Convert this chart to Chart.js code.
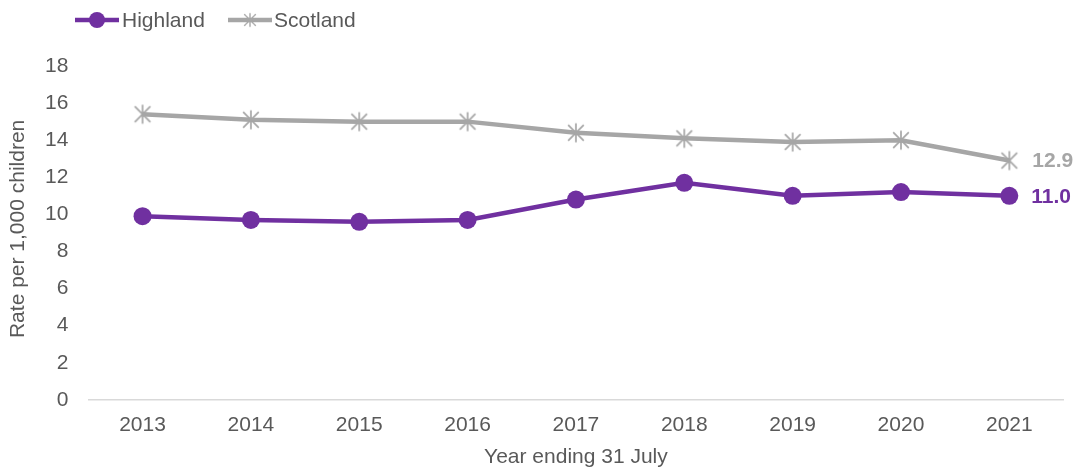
<!DOCTYPE html>
<html><head><meta charset="utf-8">
<script src="https://cdn.jsdelivr.net/npm/chart.js@4"></script>
<style>html,body{margin:0;padding:0;background:#fff}#wrap{width:1079px;height:468px}</style>
</head><body><div id="wrap"><canvas id="c" width="1079" height="468"></canvas></div>
<script>
const years = ['2013','2014','2015','2016','2017','2018','2019','2020','2021'];
const highland = [9.9, 9.7, 9.6, 9.7, 10.8, 11.7, 11.0, 11.2, 11.0];
const scotland = [15.4, 15.1, 15.0, 15.0, 14.4, 14.1, 13.9, 14.0, 12.9];
const yTicks = [0,2,4,6,8,10,12,14,16,18];
const xTitle = 'Year ending 31 July';
const yTitle = 'Rate per 1,000 children';

const PURPLE = '#7030A0', GREY = '#A6A6A6', TXT = '#595959';
const FONT = '"Liberation Sans", Arial, sans-serif';
const FS = 21;

function starCanvas(){
  const s = 22, c = document.createElement('canvas'); c.width = s; c.height = s;
  const g = c.getContext('2d'); g.strokeStyle = GREY; g.lineWidth = 1.7;
  const m = s/2, r = 9.5;
  g.beginPath();
  g.moveTo(m, m-r); g.lineTo(m, m+r);
  const d = r*0.82;
  g.moveTo(m-d, m-d); g.lineTo(m+d, m+d);
  g.moveTo(m+d, m-d); g.lineTo(m-d, m+d);
  g.stroke();
  return c;
}
const star = starCanvas();

const extras = {
  id: 'extras',
  afterDraw(chart){
    const ctx = chart.ctx, x = chart.scales.x, y = chart.scales.y, ca = chart.chartArea;
    ctx.save();
    ctx.font = 'bold ' + FS + 'px ' + FONT; ctx.textBaseline = 'middle'; ctx.textAlign = 'left';
    const last = years.length - 1, px = x.getPixelForValue(last);
    ctx.fillStyle = GREY; ctx.fillText(scotland[last].toFixed(1), px + 23, y.getPixelForValue(scotland[last]) + 1);
    ctx.fillStyle = PURPLE; ctx.fillText(highland[last].toFixed(1), px + 22, y.getPixelForValue(highland[last]) + 1);
    // axis titles
    ctx.font = FS + 'px ' + FONT; ctx.fillStyle = TXT; ctx.textAlign = 'center';
    ctx.fillText(xTitle, (ca.left + ca.right) / 2, 457);
    ctx.save(); ctx.translate(18, (ca.top + ca.bottom) / 2 - 4); ctx.rotate(-Math.PI/2);
    ctx.fillText(yTitle, 0, 0); ctx.restore();
    // legend
    ctx.textAlign = 'left';
    const ly = 20;
    ctx.strokeStyle = PURPLE; ctx.lineWidth = 4.5; ctx.beginPath(); ctx.moveTo(75, ly); ctx.lineTo(119, ly); ctx.stroke();
    ctx.fillStyle = PURPLE; ctx.beginPath(); ctx.arc(97, ly, 8, 0, Math.PI*2); ctx.fill();
    ctx.fillStyle = TXT; ctx.fillText('Highland', 122, ly + 1);
    ctx.strokeStyle = GREY; ctx.lineWidth = 4.5; ctx.beginPath(); ctx.moveTo(228, ly); ctx.lineTo(272, ly); ctx.stroke();
    ctx.drawImage(star, 250 - 8, ly - 8, 16, 16);
    ctx.fillStyle = TXT; ctx.fillText('Scotland', 274, ly + 1);
    ctx.restore();
  }
};

new Chart(document.getElementById('c'), {
  type: 'line',
  data: {
    labels: years,
    datasets: [
      { label: 'Scotland', data: scotland, borderColor: GREY, backgroundColor: GREY, borderWidth: 4.5,
        pointStyle: star, pointRadius: 11, pointHoverRadius: 11, tension: 0 },
      { label: 'Highland', data: highland, borderColor: PURPLE, backgroundColor: PURPLE, borderWidth: 4.5,
        pointStyle: 'circle', pointRadius: 9, pointHoverRadius: 9, pointBorderWidth: 0, tension: 0 }
    ]
  },
  options: {
    responsive: false, animation: false,
    layout: { padding: { top: 66, right: 8, left: 25, bottom: 17 } },
    plugins: { legend: { display: false }, tooltip: { enabled: false } },
    scales: {
      x: {
        offset: true,
        grid: { display: false, drawTicks: false },
        border: { color: '#D9D9D9', width: 1.5 },
        ticks: { color: TXT, font: { family: FONT, size: FS }, padding: 13 }
      },
      y: {
        min: 0, max: 18,
        afterBuildTicks(s){ s.ticks = yTicks.map(v => ({ value: v })); },
        grid: { display: false, drawTicks: false },
        border: { display: false },
        ticks: { color: TXT, font: { family: FONT, size: FS }, padding: 20 }
      }
    }
  },
  plugins: [extras]
});
</script></body></html>
